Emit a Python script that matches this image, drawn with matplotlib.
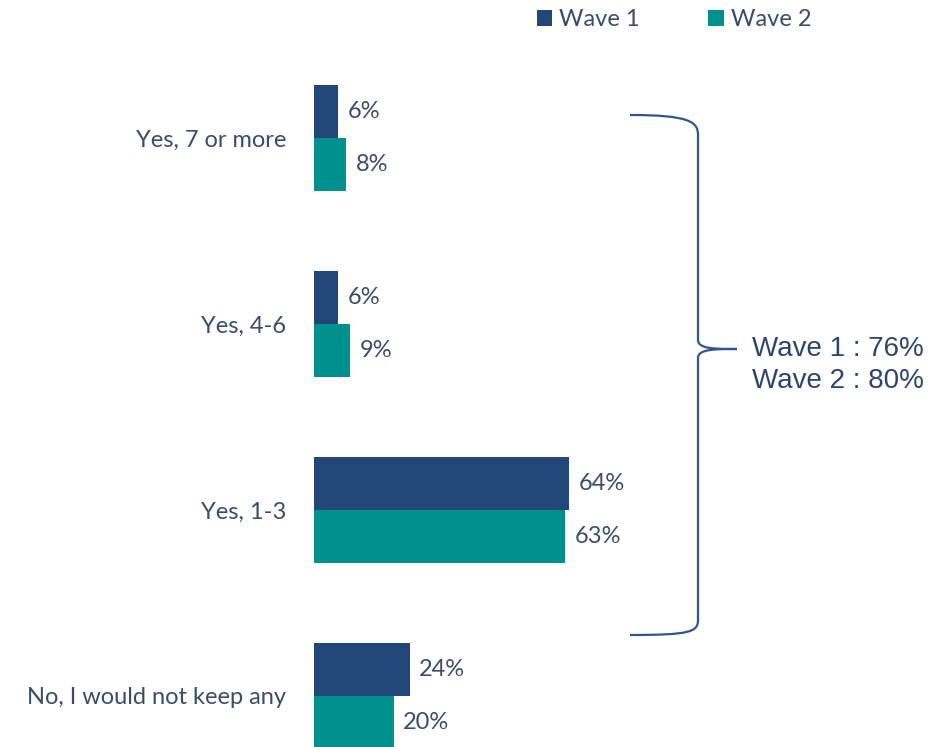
import numpy as np
import matplotlib.pyplot as plt
from matplotlib.patches import Patch
from matplotlib.path import Path
from matplotlib.patches import PathPatch

# Data
categories = ["Yes, 7 or more", "Yes, 4-6", "Yes, 1-3", "No, I would not keep any"]
wave1 = [6, 6, 64, 24]
wave2 = [8, 9, 63, 20]
series_names = ["Wave 1", "Wave 2"]
summary_lines = ["Wave 1 : 76%", "Wave 2 : 80%"]

navy = "#234679"
teal = "#00918f"
text_col = "#3a4c6b"

plt.rcParams['font.family'] = ['Lato', 'DejaVu Sans']

fig = plt.figure(figsize=(9.52, 7.47), dpi=100)
W, H = 952, 747
ax = fig.add_axes([314 / W, 0, 1 - 314 / W, 1])

y = np.arange(len(categories))
bh = 0.285
ax.barh(y - bh / 2, wave1, height=bh, color=navy)
ax.barh(y + bh / 2, wave2, height=bh, color=teal)

for i in range(len(categories)):
    ax.annotate(f"{wave1[i]}%", (wave1[i], y[i] - bh / 2), xytext=(7, 0),
                textcoords="offset points", va="center", ha="left",
                fontsize=17, color=text_col)
    ax.annotate(f"{wave2[i]}%", (wave2[i], y[i] + bh / 2), xytext=(7, 0),
                textcoords="offset points", va="center", ha="left",
                fontsize=17, color=text_col)

ax.set_xlim(0, (W - 314) / 3.98)
ax.set_ylim(3 + (747 - 696) / 186, -138 / 186)
ax.set_yticks(y)
ax.set_yticklabels(categories, fontsize=17, color=text_col)
ax.tick_params(axis="y", length=0, pad=20)
ax.set_xticks([])
for s in ax.spines.values():
    s.set_visible(False)

# brace (figure pixel coords)
def px(x, yy):
    return (x / W, 1 - yy / H)

verts = [px(630, 115), px(690, 115), px(698, 122), px(698, 135),
         px(698, 340),
         px(698, 349), px(715, 349), px(737, 349),
         px(715, 349), px(698, 349), px(698, 358),
         px(698, 620),
         px(698, 632), px(690, 635), px(630, 635)]
codes = [Path.MOVETO, Path.CURVE4, Path.CURVE4, Path.CURVE4,
         Path.LINETO,
         Path.CURVE4, Path.CURVE4, Path.CURVE4,
         Path.CURVE4, Path.CURVE4, Path.CURVE4,
         Path.LINETO,
         Path.CURVE4, Path.CURVE4, Path.CURVE4]
fig.patches.append(PathPatch(Path(verts, codes), transform=fig.transFigure,
                             fill=False, edgecolor="#2f5590", lw=1.6))

fig.text(752 / W, 1 - 349 / H, summary_lines[0], fontsize=20, color="#2d4470",
         family=["Liberation Sans", "DejaVu Sans"], va="center", ha="left")
fig.text(752 / W, 1 - 381 / H, summary_lines[1], fontsize=20, color="#2d4470",
         family=["Liberation Sans", "DejaVu Sans"], va="center", ha="left")

handles = [Patch(facecolor=navy), Patch(facecolor=teal)]
fig.legend(handles, series_names, loc="center", bbox_to_anchor=(674 / W, 1 - 20 / H),
           ncol=2, frameon=False, fontsize=17, labelcolor=text_col,
           handlelength=0.65, handleheight=0.65, handletextpad=0.3, columnspacing=2.9,
           borderpad=0)

fig.savefig("out.png", dpi=100)
